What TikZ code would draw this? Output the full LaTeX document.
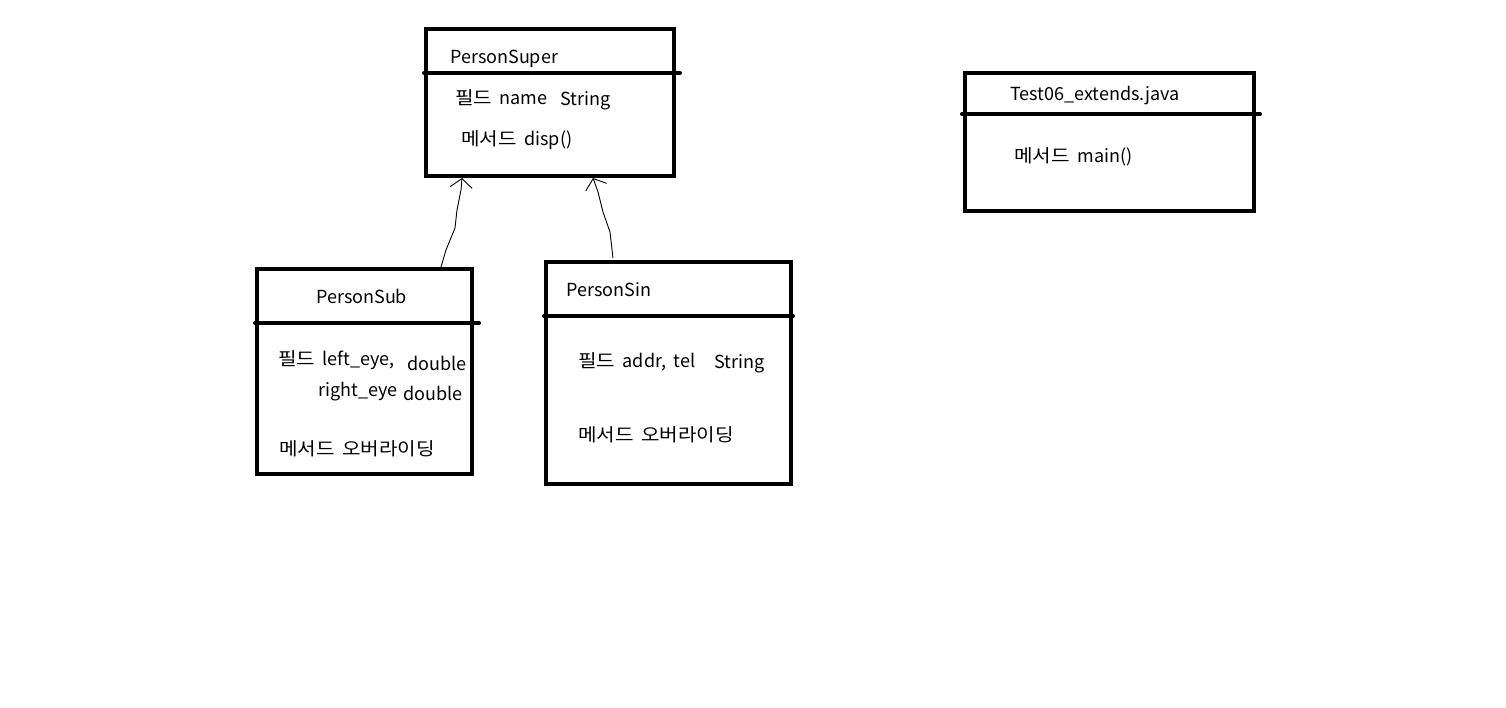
\documentclass[tikz,border=0pt]{standalone}
\usepackage{fontspec}
\setmainfont{Noto Sans CJK KR}
\newfontfamily\korfont[FakeStretch=1.12]{Noto Sans CJK KR}
\newcommand\K[1]{{\korfont #1}}
\usetikzlibrary{arrows.meta}
\newcommand\myboxfont{\fontsize{18}{21}\selectfont\spaceskip=7.5pt\relax}
\begin{document}
\begin{tikzpicture}[x=1pt,y=-1pt,
  box/.style={draw,line width=4pt,inner sep=0pt},
  sep/.style={line width=4pt,line cap=round},
  txt/.style={anchor=west,inner sep=0pt,font=\myboxfont},
  inh/.style={line width=0.9pt,-{Straight Barb[length=9pt,width=22pt,line width=0.9pt]}}]
\useasboundingbox[fill=white] (0,0) rectangle (1506,707);
% boxes
\node[box,minimum width=248pt,minimum height=147pt] (super) at (550,102.5) {};
\node[box,minimum width=215pt,minimum height=205pt] (sub) at (364.5,371.5) {};
\node[box,minimum width=245pt,minimum height=222pt] (sin) at (668.5,373) {};
\node[box,minimum width=289pt,minimum height=138pt] (main) at (1109.5,142) {};
% header separators
\coordinate (h1a) at (424,73); \coordinate (h1b) at (680,73);
\coordinate (h2a) at (255,323); \coordinate (h2b) at (479,323);
\coordinate (h3a) at (544,316); \coordinate (h3b) at (793,316);
\coordinate (h4a) at (962,114); \coordinate (h4b) at (1260,114);
\draw[sep] (h1a) -- (h1b);
\draw[sep] (h2a) -- (h2b);
\draw[sep] (h3a) -- (h3b);
\draw[sep] (h4a) -- (h4b);
% texts PersonSuper
\node[txt] (t1) at (450,59) {PersonSuper};
\node[txt] (t2) at (455,98) {\K{필드} name};
\node[txt] (t3) at (560,101) {String};
\node[txt] (t4) at (461,140) {\K{메서드} disp()};
% PersonSub
\node[txt] (t5) at (316,296) {PersonSub};
\node[txt] (t6) at (278,360) {\K{필드} left\_eye,};
\node[txt] (t7) at (407,363) {double};
\node[txt] (t8) at (318,392) {right\_eye};
\node[txt] (t9) at (403,393) {double};
\node[txt] (t10) at (279,449) {\K{메서드 오버라이딩}};
% PersonSin
\node[txt] (t11) at (566,290) {PersonSin};
\node[txt] (t12) at (578,362) {\K{필드} addr, tel};
\node[txt] (t13) at (714,364) {String};
\node[txt] (t14) at (578,435) {\K{메서드 오버라이딩}};
% Test06
\node[txt] (t15) at (1010,96) {Test06\_extends.java};
\node[txt] (t16) at (1014,157) {\K{메서드} main()};
% inheritance arrows
\coordinate (a1) at (441,267);
\coordinate (b1) at (462,178);
\coordinate (a2) at (613,258);
\coordinate (b2) at (593,178);
\draw[inh] (a1) -- (446,250) -- (455,228) -- (457,210) -- (461,190) -- (b1);
\draw[inh] (a2) -- (610,232) -- (603,212) -- (598,192) -- (b2);
\end{tikzpicture}
\end{document}
